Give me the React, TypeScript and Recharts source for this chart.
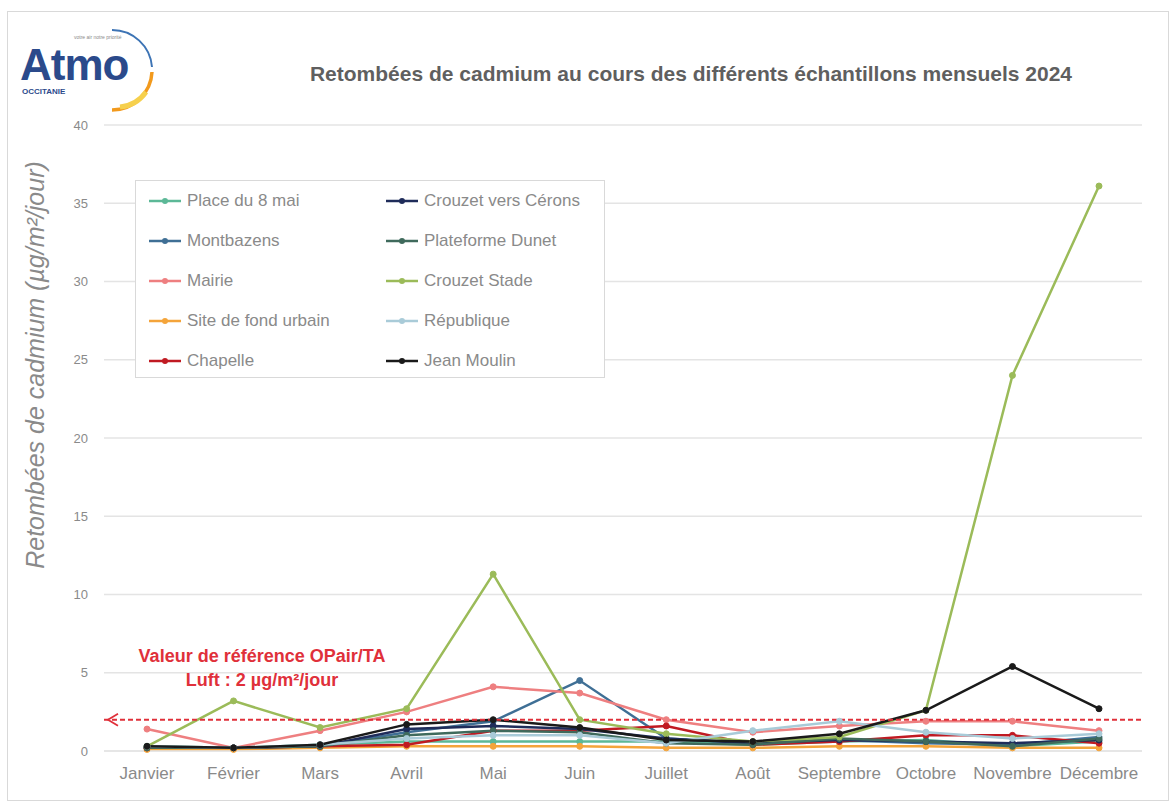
import React from 'react';
import { LineChart, Line, XAxis, YAxis, CartesianGrid, ReferenceLine } from 'recharts';

const months = ['Janvier', 'Février', 'Mars', 'Avril', 'Mai', 'Juin', 'Juillet', 'Août', 'Septembre', 'Octobre', 'Novembre', 'Décembre'];

const place8Mai = [0.3, 0.2, 0.4, 0.6, 0.6, 0.6, 0.6, 0.4, 0.6, 0.7, 0.3, 0.6];
const montbazens = [0.2, 0.2, 0.3, 1.2, 1.9, 4.5, 0.8, 0.5, 0.7, 0.5, 0.4, 0.9];
const mairie = [1.4, 0.2, 1.3, 2.5, 4.1, 3.7, 2.0, 1.2, 1.6, 1.9, 1.9, 1.3];
const siteFondUrbain = [0.1, 0.1, 0.2, 0.3, 0.3, 0.3, 0.2, 0.2, 0.3, 0.3, 0.2, 0.2];
const chapelle = [0.2, 0.2, 0.3, 0.4, 1.3, 1.3, 1.6, 0.4, 0.6, 1.0, 1.0, 0.5];
const crouzetVersCerons = [0.2, 0.2, 0.3, 1.4, 1.6, 1.4, 0.8, 0.5, 0.7, 0.6, 0.5, 0.7];
const plateformeDunet = [0.2, 0.2, 0.3, 1.0, 1.3, 1.2, 0.5, 0.4, 0.8, 0.6, 0.3, 0.8];
const crouzetStade = [0.3, 3.2, 1.5, 2.7, 11.3, 2.0, 1.1, 0.6, 0.9, 2.6, 24.0, 36.1];
const republique = [0.3, 0.2, 0.4, 0.8, 1.0, 1.0, 0.5, 1.3, 1.9, 1.2, 0.8, 1.1];
const jeanMoulin = [0.3, 0.2, 0.4, 1.7, 2.0, 1.5, 0.7, 0.6, 1.1, 2.6, 5.4, 2.7];

const yTicks = [0, 5, 10, 15, 20, 25, 30, 35, 40];
const referenceValue = 2;

const seriesNames = ['Place du 8 mai', 'Montbazens', 'Mairie', 'Site de fond urbain', 'Chapelle', 'Crouzet vers Cérons', 'Plateforme Dunet', 'Crouzet Stade', 'République', 'Jean Moulin'];
const seriesValues = [place8Mai, montbazens, mairie, siteFondUrbain, chapelle, crouzetVersCerons, plateformeDunet, crouzetStade, republique, jeanMoulin];
const seriesColors = ['#5cb897', '#3f6f95', '#ee7f80', '#f4a43a', '#c01a22', '#1f2c5a', '#3f6a5c', '#9bbb59', '#a9cbd8', '#1a1a1a'];

const data = months.map((m, i) => {
  const row: any = { month: m };
  seriesValues.forEach((arr, k) => { row['s' + k] = arr[i]; });
  return row;
});

const FONT = '"Liberation Sans", Arial, sans-serif';

const LegendBox = () => (
  <div style={{ position: 'absolute', left: 127, top: 168, width: 470, height: 198, border: '1px solid #d9d9d9', boxSizing: 'border-box', background: '#fff', fontFamily: FONT }}>
    {seriesNames.map((name, i) => {
      const col = i < 5 ? 0 : 1;
      const row = i % 5;
      const left = col === 0 ? 13 : 250;
      const top = 20 + row * 40;
      return (
        <div key={name} style={{ position: 'absolute', left, top: top - 11, height: 22, display: 'flex', alignItems: 'center', whiteSpace: 'nowrap' }}>
          <svg width={32} height={10} style={{ marginRight: 6 }}>
            <line x1={0} y1={5} x2={32} y2={5} stroke={seriesColors[i]} strokeWidth={2.5} />
            <circle cx={16} cy={5} r={3} fill={seriesColors[i]} />
          </svg>
          <span style={{ fontSize: 17, color: '#8a8a8a' }}>{name}</span>
        </div>
      );
    })}
  </div>
);

const RefLabel = (props: any) => {
  const vb = props.viewBox || {};
  const x = vb.x;
  const y = vb.y;
  return (
    <g>
      <path d={`M ${x + 14} ${y - 6} L ${x + 4} ${y} L ${x + 14} ${y + 6}`} stroke="#e0303a" strokeWidth={1.8} fill="none" />
      <text x={x + 158} y={y - 58} textAnchor="middle" fill="#e0303a" fontSize={18} fontWeight="bold" fontFamily={FONT}>Valeur de référence OPair/TA</text>
      <text x={x + 158} y={y - 34} textAnchor="middle" fill="#e0303a" fontSize={18} fontWeight="bold" fontFamily={FONT}>Luft : 2 µg/m²/jour</text>
    </g>
  );
};

export default function App() {
  return (
    <div style={{ position: 'absolute', left: 7, top: 11, width: 1162, height: 790, border: '1px solid #d9d9d9', boxSizing: 'border-box', background: '#fff', fontFamily: FONT }}>
      <svg width={200} height={110} style={{ position: 'absolute', left: 0, top: 0 }}>
        <text x={66} y={27} fontSize={5} fill="#8a8a8a" fontFamily={FONT}>votre air notre priorité</text>
        <text x={12} y={68} fontSize={44} fontWeight="bold" fill="#2b4a8b" fontFamily={FONT} letterSpacing={-1}>Atmo</text>
        <text x={14} y={82} fontSize={8} fontWeight="bold" fill="#2b4a8b" fontFamily={FONT}>OCCITANIE</text>
        <path d="M 104 18 A 40 40 0 0 1 144 55" stroke="#3d74b5" strokeWidth={2} fill="none" />
        <path d="M 144 60 A 40 40 0 0 1 104 98" stroke="#f29a1d" strokeWidth={3.5} fill="none" />
        <path d="M 138 80 A 36 36 0 0 1 112 95" stroke="#f6d04d" strokeWidth={5} fill="none" />
      </svg>
      <div style={{ position: 'absolute', left: 283, top: 50, width: 800, textAlign: 'center', fontSize: 21, fontWeight: 'bold', color: '#5f5f5f', lineHeight: '24px', fontFamily: FONT }}>
        Retombées de cadmium au cours des différents échantillons mensuels 2024
      </div>
      <div style={{ position: 'absolute', left: 0, top: 0 }}>
        <LineChart width={1160} height={788} data={data} margin={{ top: 113, right: 26, bottom: 14, left: 36 }}>
          <CartesianGrid vertical={false} stroke="#e4e4e4" strokeWidth={1.5} />
          <XAxis dataKey="month" padding={{ left: 43, right: 43 }} tickLine={false} axisLine={{ stroke: '#e4e4e4', strokeWidth: 1.5 }} height={35} tickMargin={10} tick={{ fill: '#8a8a8a', fontSize: 17, fontFamily: FONT }} interval={0} />
          <YAxis domain={[0, 40]} ticks={yTicks} width={60} tickLine={false} axisLine={false} tickMargin={10} tick={{ fill: '#8a8a8a', fontSize: 13, fontFamily: FONT }} />
          {seriesNames.map((name, k) => (
            <Line key={name} type="linear" dataKey={'s' + k} name={name} stroke={seriesColors[k]} strokeWidth={2.5} dot={{ r: 3, fill: seriesColors[k], stroke: seriesColors[k], strokeWidth: 1 }} activeDot={false} isAnimationActive={false} />
          ))}
          <ReferenceLine y={referenceValue} stroke="#e0303a" strokeWidth={2} strokeDasharray="5 3" label={<RefLabel />} />
        </LineChart>
      </div>
      <LegendBox />
      <svg width={60} height={790} style={{ position: 'absolute', left: 0, top: 0, pointerEvents: 'none' }}>
        <text x={27} y={353} transform="rotate(-90 27 353)" textAnchor="middle" dominantBaseline="central" fill="#8a8a8a" fontSize={25} fontStyle="italic" fontFamily={FONT}>
          Retombées  de cadmium (µg/m²/jour)
        </text>
      </svg>
    </div>
  );
}
